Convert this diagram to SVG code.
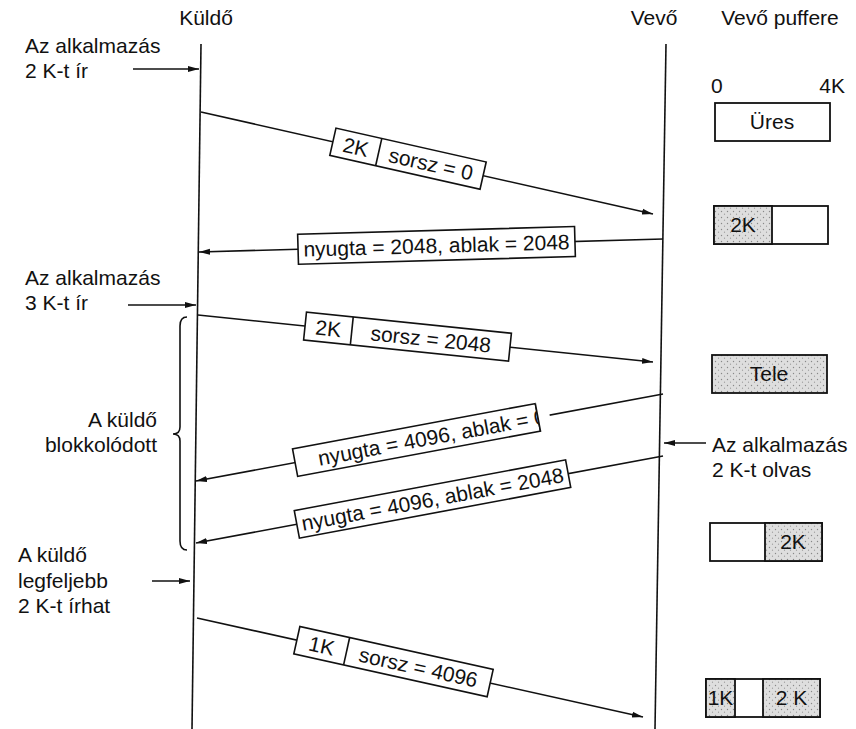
<svg xmlns="http://www.w3.org/2000/svg" width="856" height="729" viewBox="0 0 856 729">
<style>
text{font-family:"Liberation Sans",Arial,Helvetica,sans-serif;font-size:21px;fill:#111}
.ln{stroke:#111;stroke-width:1.6;fill:none}
.box{fill:#fff;stroke:#111;stroke-width:1.6}
.sh{fill:url(#dots);stroke:#111;stroke-width:1.8}
.wb{fill:#fff;stroke:#111;stroke-width:1.8}
.c{text-anchor:middle}
.e{text-anchor:end}
</style>
<defs>
<marker id="ah" markerWidth="12" markerHeight="8" refX="11" refY="4" orient="auto" markerUnits="userSpaceOnUse">
<path d="M0,1 L11,4 L0,7 Z" fill="#111"/>
</marker>
<pattern id="dots" width="6" height="6" patternUnits="userSpaceOnUse">
<rect width="6" height="6" fill="#dedede"/>
<circle cx="1.5" cy="1.5" r="0.7" fill="#888"/>
<circle cx="4.5" cy="4.2" r="0.6" fill="#999"/>
</pattern>
</defs>

<g id="sender">
<text x="206" y="25" class="c">Küldő</text>
<line class="ln" x1="201" y1="44" x2="192" y2="729"/>
</g>
<g id="receiver">
<text x="654" y="25" class="c">Vevő</text>
<line class="ln" x1="666" y1="44" x2="655" y2="729"/>
</g>
<g id="buffer-title">
<text x="780" y="25" class="c">Vevő puffere</text>
<text x="711" y="93">0</text>
<text x="845" y="93" class="e">4K</text>
</g>

<g id="buf1">
<rect class="wb" x="715" y="103" width="115" height="38"/>
<text x="772" y="129" class="c">Üres</text>
</g>
<g id="buf2">
<rect class="wb" x="714" y="206" width="114" height="38"/>
<rect class="sh" x="714" y="206" width="58" height="38"/>
<text x="743" y="232" class="c">2K</text>
</g>
<g id="buf3">
<rect class="sh" x="712" y="355" width="115" height="38"/>
<text x="769" y="381" class="c">Tele</text>
</g>
<g id="buf4">
<rect class="wb" x="710" y="523" width="112" height="38"/>
<rect class="sh" x="765" y="523" width="57" height="38"/>
<text x="793" y="549" class="c">2K</text>
</g>
<g id="buf5">
<rect class="wb" x="706" y="679" width="114" height="38"/>
<rect class="sh" x="706" y="679" width="29" height="38"/>
<rect class="sh" x="763" y="679" width="57" height="38"/>
<text x="720.5" y="705" class="c">1K</text>
<text x="791.5" y="705" class="c">2 K</text>
</g>

<g id="note-write2">
<text x="25" y="53">Az alkalmazás</text>
<text x="25" y="78">2 K-t ír</text>
</g>
<g id="note-write3">
<text x="25" y="285">Az alkalmazás</text>
<text x="25" y="310">3 K-t ír</text>
</g>
<g id="note-blocked">
<text x="157" y="427" class="e">A küldő</text>
<text x="157" y="452" class="e">blokkolódott</text>
<path class="ln" d="M187,317 Q180,317 180,326 L180,427 Q180,434 173,434 Q180,434 180,441 L180,541 Q180,550 187,550"/>
</g>
<g id="note-read">
<text x="712" y="452">Az alkalmazás</text>
<text x="712" y="477">2 K-t olvas</text>
</g>
<g id="note-maxwrite">
<text x="18" y="562">A küldő</text>
<text x="18" y="588">legfeljebb</text>
<text x="18" y="613">2 K-t írhat</text>
</g>

<g id="connectors">
<line class="ln" x1="133" y1="69" x2="199" y2="69" marker-end="url(#ah)"/>
<line class="ln" x1="128" y1="305" x2="196" y2="305" marker-end="url(#ah)"/>
<line class="ln" x1="706" y1="443" x2="664" y2="443" marker-end="url(#ah)"/>
<line class="ln" x1="152" y1="581" x2="190" y2="581" marker-end="url(#ah)"/>
<line class="ln" x1="201" y1="112" x2="653" y2="214" marker-end="url(#ah)"/>
<line class="ln" x1="663" y1="239" x2="199" y2="252" marker-end="url(#ah)"/>
<line class="ln" x1="198" y1="315" x2="653" y2="362" marker-end="url(#ah)"/>
<line class="ln" x1="663" y1="394" x2="196" y2="481" marker-end="url(#ah)"/>
<line class="ln" x1="663" y1="456" x2="196" y2="543" marker-end="url(#ah)"/>
<line class="ln" x1="197" y1="618" x2="643" y2="717" marker-end="url(#ah)"/>
</g>

<g id="label1" transform="translate(408,158.7) rotate(12.72)">
<rect class="box" x="-77" y="-14" width="154" height="28"/>
<line class="ln" x1="-30" y1="-14" x2="-30" y2="14"/>
<text x="-53.5" y="7.5" class="c">2K</text>
<text x="23.5" y="7.5" class="c">sorsz = 0</text>
</g>
<g id="label2" transform="translate(436.5,245.4) rotate(-1.6)">
<rect class="box" x="-138.5" y="-15" width="277" height="30"/>
<text x="0" y="7.5" class="c">nyugta = 2048, ablak = 2048</text>
</g>
<g id="label3" transform="translate(407.5,336.6) rotate(5.9)">
<rect class="box" x="-103" y="-14" width="206" height="28"/>
<line class="ln" x1="-56" y1="-14" x2="-56" y2="14"/>
<text x="-79.5" y="7.5" class="c">2K</text>
<text x="23.5" y="7.5" class="c">sorsz = 2048</text>
</g>
<g id="label4" transform="translate(416.5,440) rotate(-10.57)">
<rect class="box" x="-123.5" y="-14" width="247" height="28"/>
<text x="-100" y="7.5">nyugta = 4096, ablak = 0</text>
<rect x="123.5" y="-14" width="12" height="28" fill="#fff"/>
<line class="ln" x1="123.5" y1="-14" x2="123.5" y2="14"/>
</g>
<g id="label5" transform="translate(432.5,499) rotate(-10.57)">
<rect class="box" x="-138" y="-14" width="276" height="28"/>
<text x="0" y="7.5" class="c">nyugta = 4096, ablak = 2048</text>
</g>
<g id="label6" transform="translate(393.5,661.6) rotate(12.5)">
<rect class="box" x="-99" y="-14" width="198" height="28"/>
<line class="ln" x1="-48" y1="-14" x2="-48" y2="14"/>
<text x="-73.5" y="7.5" class="c">1K</text>
<text x="25.5" y="7.5" class="c">sorsz = 4096</text>
</g>
</svg>
